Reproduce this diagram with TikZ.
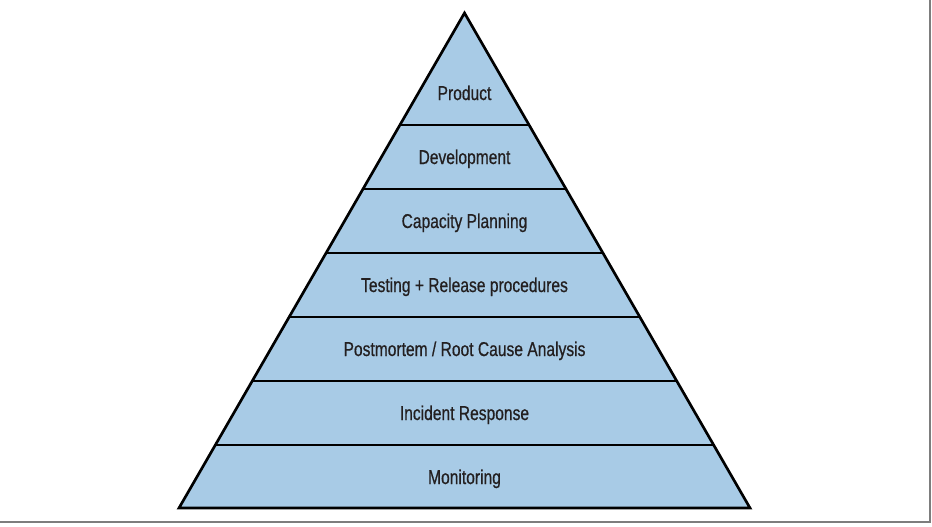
\documentclass[tikz,border=0pt]{standalone}
\usepackage{fontspec}
\setmainfont{Liberation Sans}[FakeStretch=0.78, FakeBold=0.6]
\usepackage{tikz}
\definecolor{layerblue}{RGB}{168,203,230}
\definecolor{framegray}{RGB}{125,125,125}
\definecolor{labelink}{RGB}{35,31,32}

\begin{document}
\begin{tikzpicture}[x=0.75pt, y=-0.75pt, layer/.style = {anchor=base, text=labelink, font=\fontsize{15}{17}\selectfont}]
            \useasboundingbox (0,0) rectangle (932,526);
            \draw[framegray, line width=1.5pt] (0,522) -- (930,522) -- (930,0);

            % outline of the pyramid
            \coordinate (apex) at (464.5,13);
            \coordinate (bl) at (179,508);
            \coordinate (br) at (750,508);
            \filldraw[fill=layerblue, line width=2pt] (apex) -- (br) -- (bl) -- cycle;

            % band borders
            \draw[line width=1.7pt] (399.9,125) -- (529.1,125);
            \draw[line width=1.7pt] (363.0,189) -- (566.0,189);
            \draw[line width=1.7pt] (326.1,253) -- (602.9,253);
            \draw[line width=1.7pt] (289.2,317) -- (639.8,317);
            \draw[line width=1.7pt] (252.2,381) -- (676.8,381);
            \draw[line width=1.7pt] (215.3,445) -- (713.7,445);

            \node[layer] (product) at (464.5,100) {Product};
            \node[layer] (development) at (464.5,164) {Development};
            \node[layer] (capacity) at (464.5,228) {Capacity Planning};
            \node[layer] (testing) at (464.5,292) {Testing + Release procedures};
            \node[layer] (postmortem) at (464.5,356) {Postmortem / Root Cause Analysis};
            \node[layer] (incident) at (464.5,420) {Incident Response};
            \node[layer] (monitoring) at (464.5,484) {Monitoring};
        \end{tikzpicture}
\end{document}
